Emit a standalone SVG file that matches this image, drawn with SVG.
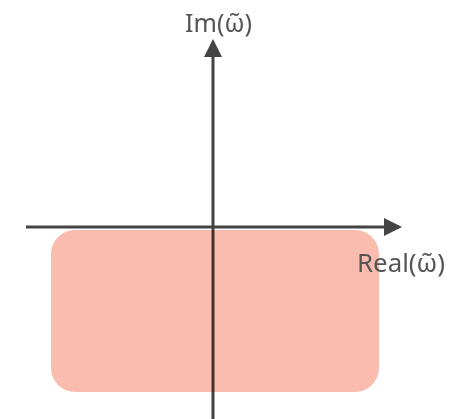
<svg xmlns="http://www.w3.org/2000/svg" width="452" height="419" viewBox="0 0 452 419">
<style>
.axis{stroke:#444;stroke-width:3;fill:none}
.lbl{font-family:"Noto Sans","DejaVu Sans",sans-serif;font-size:26px;fill:#555}
</style>
<defs>
<marker id="ah" markerWidth="6" markerHeight="6" refX="5" refY="3" orient="auto" markerUnits="strokeWidth">
<path d="M0,0 L6,3 L0,6 Z" fill="#444"/>
</marker>
</defs>
<rect width="452" height="419" fill="#fff"/>
<g id="connectors">
<line class="axis" x1="26" y1="227" x2="399" y2="227" marker-end="url(#ah)"/>
<line class="axis" x1="213" y1="419" x2="213" y2="42" marker-end="url(#ah)"/>
</g>
<g id="region">
<rect x="51" y="230" width="328" height="162" rx="24" fill="#fbbcb0" style="mix-blend-mode:multiply"/>
</g>
<g id="labels">
<text class="lbl" x="185" y="32" textLength="67" lengthAdjust="spacingAndGlyphs">Im(&#969;&#771;)</text>
<text class="lbl" x="357" y="272" textLength="88" lengthAdjust="spacingAndGlyphs">Real(&#969;&#771;)</text>
</g>
</svg>
